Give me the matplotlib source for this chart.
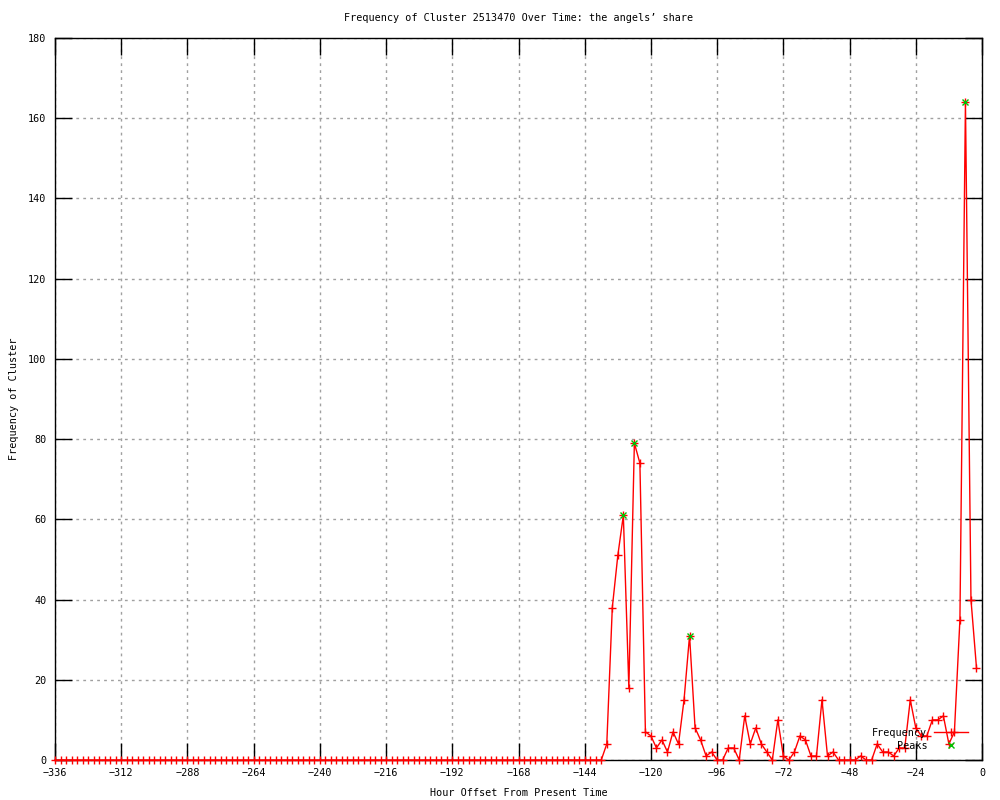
import matplotlib
matplotlib.use("Agg")
import matplotlib.pyplot as plt
from matplotlib.lines import Line2D
import numpy as np

# hours offset (every 2 hours from -336 to -2)
hours = list(range(-336, 0, 2))
# non-zero region values from -138 to -2
tail_hours = list(range(-138, 0, 2))
tail_values = [0, 4, 38, 51, 61, 18, 79, 74, 7, 6,
               3, 5, 2, 7, 4, 15, 31, 8, 5, 1,
               2, 0, 0, 3, 3, 0, 11, 4, 8, 4,
               2, 0, 10, 1, 0, 2, 6, 5, 1, 1,
               15, 1, 2, 0, 0, 0, 0, 1, 0, 0,
               4, 2, 2, 1, 3, 3, 15, 8, 6, 6,
               10, 10, 11, 4, 7, 35, 164, 40, 23]
lead_values = [0] * (len(hours) - len(tail_hours))
frequency = lead_values + tail_values

peak_hours = [-130, -126, -106, -6]
peak_values = [61, 79, 31, 164]

x_ticks = list(range(-336, 1, 24))
y_ticks = list(range(0, 181, 20))

FONT = "DejaVu Sans Mono"
FS = 7.3

fig = plt.figure(figsize=(10, 8), dpi=100)
ax = fig.add_axes([0.055, 0.05, 0.927, 0.9025])

ax.plot(hours, frequency, color="red", lw=1, marker="+", ms=5.5, mew=1,
        clip_on=False, zorder=3)
ax.plot(peak_hours, peak_values, ls="none", color="#00c000", marker="x",
        ms=4.5, mew=1, clip_on=False, zorder=4)

ax.set_xlim(-336, 0)
ax.set_ylim(0, 180)
ax.set_xticks(x_ticks)
ax.set_yticks(y_ticks)
ax.tick_params(direction="in", length=12, width=1, color="black",
               top=True, right=True, labelsize=FS, pad=6)
for lab in ax.get_xticklabels() + ax.get_yticklabels():
    lab.set_fontfamily(FONT)
ax.grid(True, color="#a0a0a0", ls=(0, (2, 3)), lw=1)
for sp in ax.spines.values():
    sp.set_linewidth(1)
    sp.set_color("black")

ax.set_title("Frequency of Cluster 2513470 Over Time: the angels\u2019 share",
             fontfamily=FONT, fontsize=FS, pad=12)
ax.set_xlabel("Hour Offset From Present Time", fontfamily=FONT, fontsize=FS,
              labelpad=7)
ax.set_ylabel("Frequency of Cluster", fontfamily=FONT, fontsize=FS,
              labelpad=7)

handles = [Line2D([], [], color="red", lw=1, marker="+", ms=5.5),
           Line2D([], [], color="#00c000", ls="none", marker="x", ms=4.5)]
leg = ax.legend(handles, ["Frequency", "Peaks"], loc="lower right",
                bbox_to_anchor=(0.973, 0.0555), bbox_transform=fig.transFigure,
                frameon=False, markerfirst=False, handlelength=3.3,
                handletextpad=0.7, labelspacing=0.25, borderpad=0,
                prop={"family": FONT, "size": FS})

fig.savefig("out.png", dpi=100)
